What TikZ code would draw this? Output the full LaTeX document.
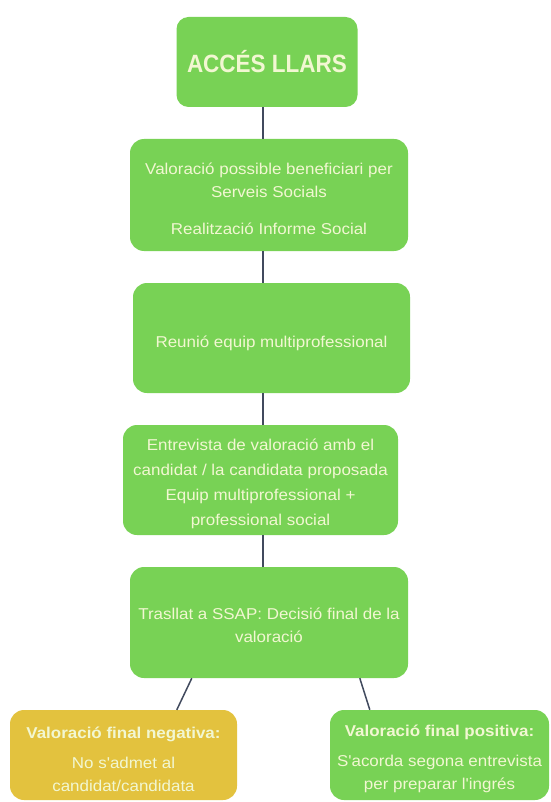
\documentclass[tikz,border=0pt]{standalone}
\usepackage{fontspec}
\usetikzlibrary{calc}
\setmainfont{Liberation Sans}
\newfontfamily\boxfont{Liberation Sans}[FakeStretch=1.08]
\newfontfamily\titlefont{Liberation Sans}[FakeStretch=0.9]
\definecolor{boxgreen}{HTML}{78D255}
\definecolor{boxyellow}{HTML}{E3C23E}
\definecolor{txtcol}{HTML}{F2F7D2}
\definecolor{linecol}{HTML}{414A5E}
\tikzset{
  box/.style={fill=boxgreen, rounded corners=14pt, inner sep=0pt},
  ybox/.style={box, fill=boxyellow},
  txt/.style={inner sep=0pt, align=center, text=txtcol, font=\boxfont\fontsize{15.7}{23}\selectfont},
  link/.style={draw=linecol, line width=1.5pt}
}
\begin{document}
\begin{tikzpicture}[x=1pt,y=-1pt]
\useasboundingbox (0,0) rectangle (550,802);
\coordinate (spine) at (263,0);
\node[box, rounded corners=12pt, minimum width=181pt, minimum height=90pt] (b1) at (267,62) {};
\node[txt, font=\titlefont\bfseries\fontsize{25}{28}\selectfont] (t1) at (b1.center) {ACCÉS LLARS};
\node[box, minimum width=278pt, minimum height=112pt] (b2) at (269,195) {};
\node[txt] (t2) at ($(b2.center)+(0,4)$)
  {Valoració possible beneficiari per\\Serveis Socials\\[14pt]Realització Informe Social};
\node[box, minimum width=277pt, minimum height=110pt] (b3) at (271.5,338) {};
\node[txt] (t3) at ($(b3.center)+(0,5)$) {Reunió equip multiprofessional};
\node[box, minimum width=275pt, minimum height=110pt] (b4) at (260.5,480) {};
\node[txt, font=\boxfont\fontsize{15.7}{25}\selectfont] (t4) at ($(b4.center)+(0,4)$)
  {Entrevista de valoració amb el\\candidat / la candidata proposada\\Equip multiprofessional +\\professional social};
\node[box, minimum width=278pt, minimum height=111pt] (b5) at (269,622.5) {};
\node[txt] (t5) at ($(b5.center)+(0,3)$) {Trasllat a SSAP: Decisió final de la\\valoració};
\node[ybox, minimum width=227pt, minimum height=90pt] (b6) at (123.5,755) {};
\node[txt] (t6) at ($(b6.center)+(0,4)$)
  {\textbf{Valoració final negativa:}\\[7pt]No s'admet al\\candidat/candidata};
\node[box, minimum width=219pt, minimum height=90pt] (b7) at (439.5,755) {};
\node[txt] (t7) at ($(b7.center)+(0,4)$)
  {\textbf{Valoració final positiva:}\\[7pt]S'acorda segona entrevista\\per preparar l'ingrés};
\draw[link] (b1.south -| spine) -- (b2.north -| spine);
\draw[link] (b2.south -| spine) -- (b3.north -| spine);
\draw[link] (b3.south -| spine) -- (b4.north -| spine);
\draw[link] (b4.south -| spine) -- (b5.north -| spine);
\draw[link] ([xshift=62pt]b5.south west) -- ([xshift=167pt]b6.north west);
\draw[link] ([xshift=230pt]b5.south west) -- ([xshift=40pt]b7.north west);
\end{tikzpicture}
\end{document}
